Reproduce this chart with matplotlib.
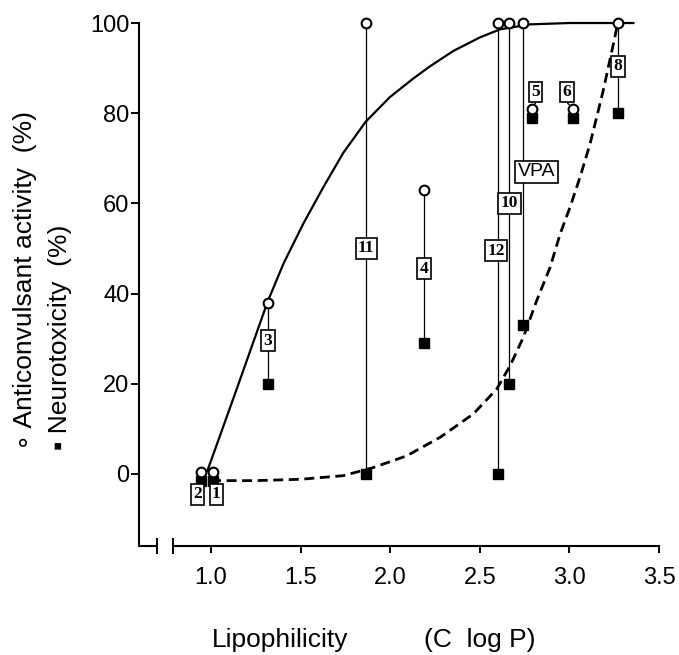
import matplotlib
matplotlib.use("Agg")
import matplotlib.pyplot as plt

plt.rcParams['font.family'] = ['Liberation Sans', 'DejaVu Sans']

# compounds: lipophilicity, anticonvulsant activity (%), neurotoxicity (%)
names = ["1", "2", "3", "4", "5", "6", "8", "10", "11", "12", "VPA"]
clogp = [1.01, 0.945, 1.318, 2.19, 2.79, 3.02, 3.27, 2.665, 1.866, 2.60, 2.74]
activity = [0.5, 0.5, 38, 63, 81, 81, 100, 100, 100, 100, 100]
toxicity = [-1.5, -1.5, 20, 29, 79, 79, 80, 20, 0, 0, 33]

# where the compound numbers sit
label_x = [1.03, 0.925, 1.318, 2.19, 2.81, 2.985, 3.27, 2.665, 1.866, 2.59, 2.815]
label_y = [-4.5, -4.5, 29.5, 45.5, 84.7, 84.7, 90.4, 60, 50, 49.5, 67]

# fitted curves
act_fit_x = [0.98, 1.145, 1.316, 1.404, 1.515, 1.627, 1.738, 1.863, 1.999, 2.129,
             2.222, 2.352, 2.50, 2.613, 2.78, 3.0, 3.357]
act_fit_y = [0.7, 19, 38.2, 46.6, 55.5, 63.6, 71.2, 78.1, 83.6, 87.7,
             90.4, 93.8, 96.8, 98.6, 99.7, 100, 100]
tox_fit_x = [1.0, 1.25, 1.5, 1.738, 1.906, 2.092, 2.278, 2.464, 2.594, 2.669, 2.743,
             2.817, 2.892, 2.948, 3.003, 3.059, 3.115, 3.152, 3.189, 3.217, 3.245, 3.27]
tox_fit_y = [-1.5, -1.5, -1.2, -0.4, 1.4, 4, 8.1, 13.3, 18.8, 24, 30.3,
             38.4, 45.8, 53.2, 59.1, 65.8, 73.2, 79.1, 85.1, 90.2, 95.3, 100]

xticks = [1.0, 1.5, 2.0, 2.5, 3.0, 3.5]
yticks = [0, 20, 40, 60, 80, 100]

fig = plt.figure(figsize=(6.79, 6.55), dpi=100)
ax = fig.add_axes([0.2052, 0.1664, 0.7786, 0.826])
ax.set_xlim(0.6, 3.55)
ax.set_ylim(-16, 104)

# fits
ax.plot(act_fit_x, act_fit_y, color="black", lw=1.6, zorder=2)
ax.plot(tox_fit_x, tox_fit_y, color="black", lw=2.0, dashes=(3.6, 2.0), zorder=2)

# connectors between activity and toxicity of each compound
ax.vlines(clogp, toxicity, activity, color="black", lw=0.9, zorder=1)

ax.plot(clogp, toxicity, ls="none", marker="s", ms=7.5, mfc="black", mec="black",
        zorder=4, clip_on=False)
ax.plot(clogp, activity, ls="none", marker="o", ms=7, mfc="white", mec="black",
        mew=1.5, zorder=5, clip_on=False)

for i, name in enumerate(names):
    if name == "VPA":
        fam, size, wt = ['Liberation Sans', 'DejaVu Sans'], 14, "normal"
    else:
        fam, size, wt = ['Liberation Serif', 'DejaVu Serif'], 12.5, "bold"
    bbox = dict(boxstyle="square,pad=0.14", fc="white", ec="black", lw=1.2)
    if name in ("5", "6"):
        rel = (0.75, 0.0) if name == "5" else (0.25, 0.0)
        ax.annotate(name, xy=(clogp[i], activity[i]), xytext=(label_x[i], label_y[i]),
                    ha="center", va="center", fontsize=size, family=fam, weight=wt,
                    bbox=bbox, zorder=6,
                    arrowprops=dict(arrowstyle="-", lw=1.0, color="black",
                                    relpos=rel, shrinkA=0, shrinkB=4))
    else:
        ax.text(label_x[i], label_y[i], name, ha="center", va="center", fontsize=size,
                family=fam, weight=wt, bbox=bbox, zorder=6)

# axes
for side in ("top", "right"):
    ax.spines[side].set_visible(False)
ax.spines["left"].set_bounds(-16, 100)
ax.spines["bottom"].set_bounds(0.79, 3.5)
ax.spines["left"].set_linewidth(1.5)
ax.spines["bottom"].set_linewidth(1.5)
ax.plot([0.6, 0.70], [0, 0], color="black", lw=1.5, transform=ax.get_xaxis_transform(),
        clip_on=False, solid_capstyle="butt")

ax.set_xticks(xticks)
ax.set_xticklabels([f"{t:.1f}" for t in xticks])
ax.set_xticks([0.70, 0.79], minor=True)
ax.set_yticks(yticks)
ax.set_yticklabels([str(t) for t in yticks])
ax.tick_params(axis="x", which="major", direction="out", length=5, width=1.4,
               labelsize=17, pad=10)
ax.tick_params(axis="x", which="minor", direction="inout", length=11, width=1.4)
ax.tick_params(axis="y", direction="out", length=6, width=1.4, labelsize=17, pad=1)

# axis titles
fig.text(25 / 679, 0.313, "\u2218 Anticonvulsant activity  (%)", rotation=90,
         rotation_mode="anchor", ha="left", va="center", fontsize=19)
fig.text(60 / 679, 0.313, "\u25aa Neurotoxicity  (%)", rotation=90,
         rotation_mode="anchor", ha="left", va="center", fontsize=19)
fig.text(212 / 679, 0.012, "Lipophilicity", ha="left", va="baseline", fontsize=19)
fig.text(535 / 679, 0.012, "(C  log P)", ha="right", va="baseline", fontsize=19)

fig.savefig("out.png", dpi=100)
